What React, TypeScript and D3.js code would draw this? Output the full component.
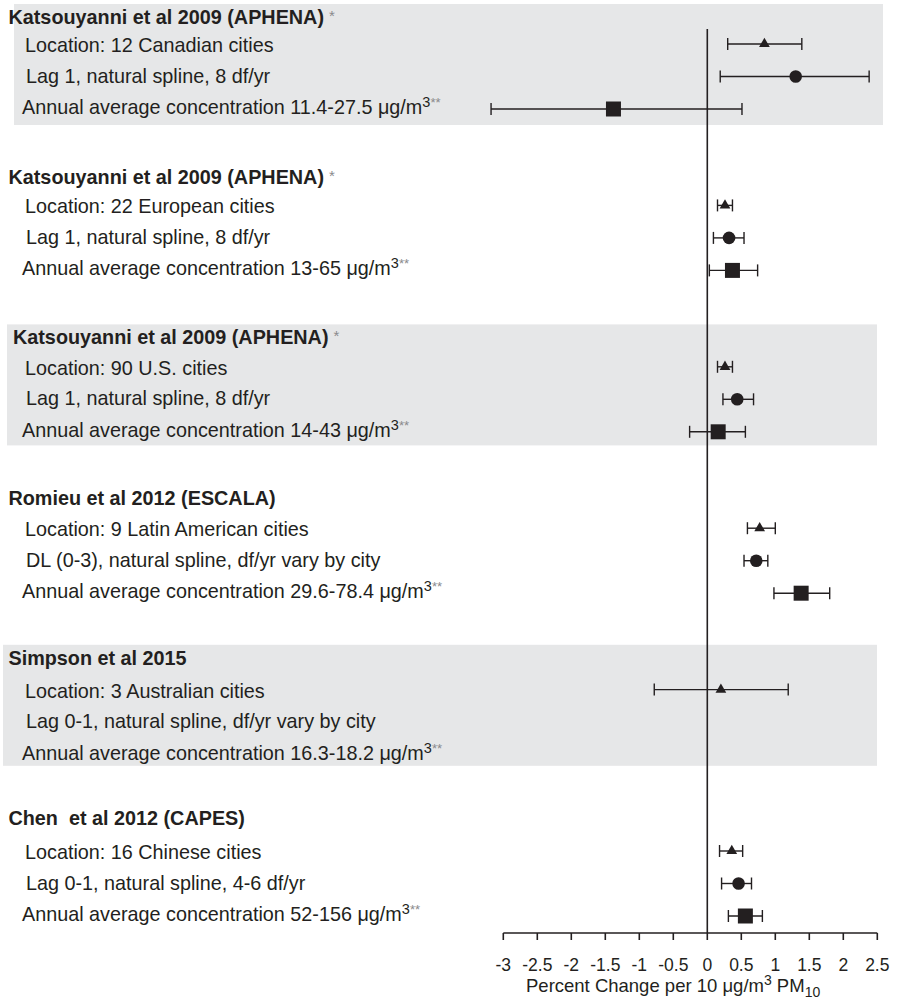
import React from "react";
import * as d3 from "d3";

const studies = [
  "Katsouyanni et al 2009 (APHENA)",
  "Katsouyanni et al 2009 (APHENA)",
  "Katsouyanni et al 2009 (APHENA)",
  "Romieu et al 2012 (ESCALA)",
  "Simpson et al 2015",
  "Chen  et al 2012 (CAPES)",
];
const studyStar = [true, true, true, false, false, false];
const shaded = [true, false, true, false, true, false];
const locations = [
  "Location: 12 Canadian cities",
  "Location: 22 European cities",
  "Location: 90 U.S. cities",
  "Location: 9 Latin American cities",
  "Location: 3 Australian cities",
  "Location: 16 Chinese cities",
];
const models = [
  "Lag 1, natural spline, 8 df/yr",
  "Lag 1, natural spline, 8 df/yr",
  "Lag 1, natural spline, 8 df/yr",
  "DL (0-3), natural spline, df/yr vary by city",
  "Lag 0-1, natural spline, df/yr vary by city",
  "Lag 0-1, natural spline, 4-6 df/yr",
];
const concentrations = ["11.4-27.5", "13-65", "14-43", "29.6-78.4", "16.3-18.2", "52-156"];

// Triangle (location row)
const triEst = [0.84, 0.26, 0.26, 0.77, 0.2, 0.36];
const triLo = [0.3, 0.15, 0.15, 0.59, -0.78, 0.18];
const triHi = [1.39, 0.37, 0.37, 1.0, 1.19, 0.52];
// Circle (model row)
const circEst = [1.3, 0.32, 0.44, 0.72, null, 0.46];
const circLo = [0.19, 0.09, 0.23, 0.54, null, 0.21];
const circHi = [2.38, 0.54, 0.68, 0.89, null, 0.65];
// Square (concentration row)
const sqEst = [-1.38, 0.37, 0.16, 1.38, null, 0.56];
const sqLo = [-3.18, 0.03, -0.26, 0.98, null, 0.31];
const sqHi = [0.51, 0.74, 0.56, 1.8, null, 0.81];

const tickValues = [-3, -2.5, -2, -1.5, -1, -0.5, 0, 0.5, 1, 1.5, 2, 2.5];
const tickLabels = ["-3", "-2.5", "-2", "-1.5", "-1", "-0.5", "0", "0.5", "1", "1.5", "2", "2.5"];

const INK = "#231f20";
const GRAY = "#e6e7e8";
const STARGRAY = "#8a8a8c";
const FONT = "'Liberation Sans', Arial, Helvetica, sans-serif";

export default function App() {
  const W = 898;
  const H = 1001;
  const x = d3.scaleLinear().domain([-3, 2.5]).range([503.3, 877.3]);
  const titleY = d3.scaleLinear().domain([0, 5]).range([17, 818]);
  const rowBase = d3.scaleLinear().domain([0, 5]).range([44, 851]);
  const rowOff = d3.scaleLinear().domain([1, 3]).range([0, 65]);
  const axisY = 933;
  const fs = 19.8;

  const tri = d3.symbol().type(d3.symbolTriangle).size(50)();
  const circ = d3.symbol().type(d3.symbolCircle).size(Math.PI * 6.3 * 6.3)();
  const sq = d3.symbol().type(d3.symbolSquare).size(15 * 15)();

  const rows: { y: number; est: number; lo: number; hi: number; shape: string }[] = [];
  studies.forEach((_, i) => {
    const base = rowBase(i);
    if (triEst[i] != null) rows.push({ y: base + rowOff(1), est: triEst[i] as number, lo: triLo[i] as number, hi: triHi[i] as number, shape: tri as string });
    if (circEst[i] != null) rows.push({ y: base + rowOff(2), est: circEst[i] as number, lo: circLo[i] as number, hi: circHi[i] as number, shape: circ as string });
    if (sqEst[i] != null) rows.push({ y: base + rowOff(3), est: sqEst[i] as number, lo: sqLo[i] as number, hi: sqHi[i] as number, shape: sq as string });
  });

  return (
    <svg width={W} height={H} style={{ display: "block", position: "absolute", left: 0, top: 0 }} fontFamily={FONT}>
      <rect x={0} y={0} width={W} height={H} fill="#ffffff" />
      {studies.map((s, i) =>
        shaded[i] ? (
          <rect key={"bg" + i} x={i === 0 ? 14 : i === 2 ? 7 : 3} y={titleY(i) - 13} width={i === 0 ? 869 : i === 2 ? 870 : 874} height={121} fill={GRAY} />
        ) : null
      )}
      {studies.map((s, i) => {
        const base = rowBase(i);
        return (
          <g key={"txt" + i} fill={INK} fontSize={fs}>
            <text x={i === 2 ? 13 : 8.5} y={titleY(i) + 7} fontWeight="bold" style={{ whiteSpace: "pre" }}>
              {s}
              {studyStar[i] ? (
                <tspan fill={STARGRAY} fontWeight="normal" fontSize={15} dx={5} dy={-3}>*</tspan>
              ) : null}
            </text>
            <text x={25} y={base + rowOff(1) + 8}>{locations[i]}</text>
            <text x={26} y={base + rowOff(2) + 6}>{models[i]}</text>
            <text x={22} y={base + rowOff(3) + 5}>
              {"Annual average concentration " + concentrations[i] + " μg/m"}
              <tspan fontSize={14.5} dy={-7}>3</tspan>
              <tspan fontSize={13} fill={STARGRAY}>**</tspan>
            </text>
          </g>
        );
      })}
      <line x1={x(0)} x2={x(0)} y1={29} y2={axisY} stroke={INK} strokeWidth={1.6} />
      {rows.map((r, k) => (
        <g key={"r" + k} stroke={INK} strokeWidth={1.4}>
          <line x1={x(r.lo)} x2={x(r.hi)} y1={r.y} y2={r.y} />
          <line x1={x(r.lo)} x2={x(r.lo)} y1={r.y - 6} y2={r.y + 6} />
          <line x1={x(r.hi)} x2={x(r.hi)} y1={r.y - 6} y2={r.y + 6} />
          <path d={r.shape} transform={`translate(${x(r.est)},${r.y})`} fill={INK} stroke="none" />
        </g>
      ))}
      <g>
        <line x1={x(-3)} x2={x(2.5)} y1={axisY} y2={axisY} stroke={INK} strokeWidth={1.6} />
        {tickValues.map((t, i) => (
          <g key={"t" + i}>
            <line x1={x(t)} x2={x(t)} y1={axisY} y2={axisY + 7} stroke={INK} strokeWidth={1.6} />
            <text x={x(t)} y={axisY + 38} textAnchor="middle" fontSize={17.5} fill={INK}>
              {tickLabels[i]}
            </text>
          </g>
        ))}
        <text x={526} y={992} fontSize={18.5} fill={INK}>
          {"Percent Change per 10 μg/m"}
          <tspan fontSize={14} dy={-7}>3</tspan>
          <tspan dy={7}>{" PM"}</tspan>
          <tspan fontSize={14} dy={5}>10</tspan>
        </text>
      </g>
    </svg>
  );
}
